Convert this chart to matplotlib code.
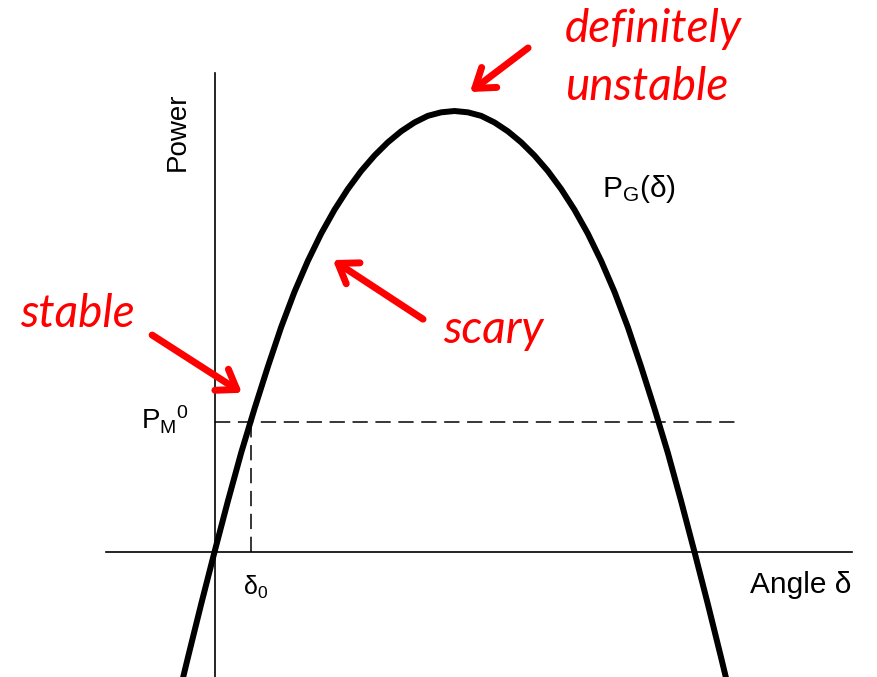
import numpy as np
import matplotlib
matplotlib.use("Agg")
import matplotlib.pyplot as plt

# -------------------- Data --------------------

# power-angle curve P_G(delta): angle in degrees, power in per-unit of the peak
delta_deg = [-12, -10, -5, 0, 5, 10, 15, 20, 25, 30, 35, 40, 45, 50, 55, 60, 65, 70,
             75, 80, 85, 90, 95, 100, 105, 110, 115, 120, 125, 130, 135, 140, 145,
             150, 155, 160, 165, 170, 175, 180, 185, 190, 192]
power_pu = [-0.29, -0.24, -0.118, 0.0, 0.115, 0.225, 0.325, 0.420, 0.510, 0.590,
            0.660, 0.722, 0.776, 0.823, 0.864, 0.899, 0.929, 0.954, 0.974, 0.989,
            0.997, 1.0, 0.997, 0.989, 0.974, 0.954, 0.929, 0.899, 0.864, 0.823,
            0.776, 0.722, 0.660, 0.590, 0.510, 0.420, 0.325, 0.225, 0.115, 0.0,
            -0.118, -0.24, -0.29]

pm0 = 0.295      # mechanical power level
delta0 = 13.8    # operating angle

# -------------------- Figure --------------------

plt.rcParams["mathtext.default"] = "regular"
plt.rcParams["font.family"] = ["Liberation Sans", "DejaVu Sans"]
plt.rcParams["lines.scale_dashes"] = False

fig = plt.figure(figsize=(8.77, 6.77), dpi=100)
ax = fig.add_axes([0, 0, 1, 1])
ax.set_xlim(-80.44, 248.44)
ax.set_ylim(-0.2834, 1.2517)
ax.axis("off")

# axes drawn as lines through the origin
ax.plot([-40.7, 239.1], [0, 0], color="black", lw=1.2)
ax.plot([0, 0], [-0.2834, 1.086], color="black", lw=1.2)

# dashed operating point lines
ax.plot([0, 197.4], [pm0, pm0], color="black", lw=1.1, dashes=(11, 5.5))
ax.plot([delta0, delta0], [0, pm0], color="black", lw=1.1, dashes=(11, 5.5))

# the curve
ax.plot(delta_deg, power_pu, color="black", lw=4.3, solid_joinstyle="round",
        solid_capstyle="butt")

# black labels
ax.text(-13.7, 0.952, "Power", rotation=90, ha="center", va="center", fontsize=20)
ax.text(200.8, -0.093, "Angle δ", ha="left", va="baseline", fontsize=21.5)
ax.text(145.3, 0.805, r"P$_G$(δ)", ha="left", va="baseline", fontsize=21.5)
ax.text(-27.6, 0.277, r"P$_M$$^0$", ha="left", va="baseline", fontsize=20)
ax.text(10.7, -0.098, r"δ$_0$", ha="left", va="baseline", fontsize=18)

# red annotations
red = "#ff0000"
tfont = dict(family=["Lato", "DejaVu Sans"], style="italic", color=red, fontsize=33,
             ha="left", va="baseline")
ax.text(131.4, 1.156, "definitely", **tfont)
ax.text(131.4, 1.025, "unstable", **tfont)
ax.text(-72.9, 0.510, "stable", **tfont)
ax.text(85.7, 0.474, "scary", **tfont)

arrow = dict(arrowstyle="->,head_length=1.3,head_width=0.9", color=red, lw=5,
             shrinkA=0, shrinkB=0, mutation_scale=10)
ax.annotate("", xy=(95.8, 1.043), xytext=(117.6, 1.143), arrowprops=arrow)
ax.annotate("", xy=(44.4, 0.662), xytext=(78.2, 0.528), arrowprops=arrow)
ax.annotate("", xy=(10.3, 0.361), xytext=(-23.4, 0.492), arrowprops=arrow)

fig.savefig("out.png", dpi=100)
